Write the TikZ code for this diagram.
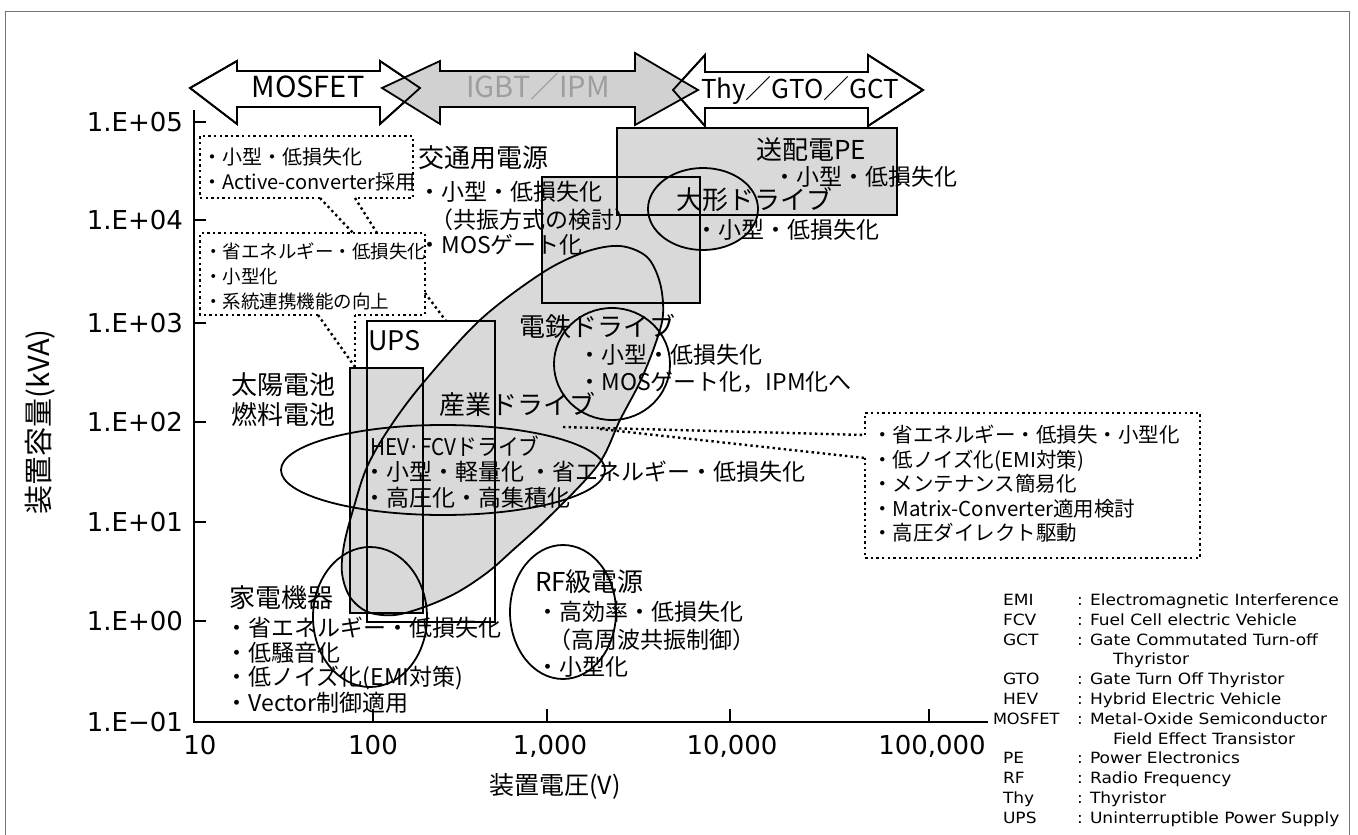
\documentclass[tikz,border=0pt]{standalone}
\usepackage{fontspec}
\usepackage{graphicx}
\setmainfont{Noto Sans CJK JP}
\newfontfamily\tickfont{DejaVu Sans}
\newfontfamily\legfont{DejaVu Sans}[FakeStretch=1.1]
\newcommand\szT{\fontsize{26pt}{30pt}\selectfont}
\newcommand\szB{\fontsize{23pt}{27pt}\selectfont}
\newcommand\szBa{\fontsize{20pt}{24pt}\selectfont}
\newcommand\szBb{\fontsize{18.5pt}{22pt}\selectfont}
\newcommand\szBr{\fontsize{20.5pt}{24pt}\selectfont}
\newcommand\szK{\tickfont\fontsize{26pt}{30pt}\selectfont}
\newcommand\szL{\legfont\fontsize{15.5pt}{18pt}\selectfont}
\newcommand\szA{\fontsize{29pt}{33pt}\selectfont}
\begin{document}
\begin{tikzpicture}[x=1pt,y=-1pt,
  shadefill/.style={fill=black!15},
  outl/.style={draw=black, line width=1.8pt},
  dotl/.style={draw=black, line width=2.4pt, dash pattern=on 2.4pt off 3.2pt},
  lbl/.style={anchor=base west, inner sep=0pt, outer sep=0pt},
  lblc/.style={anchor=base, inner sep=0pt, outer sep=0pt},
  lble/.style={anchor=base east, inner sep=0pt, outer sep=0pt},
  arrowbox/.style={draw=black, line width=1.8pt, line join=miter},
]
\useasboundingbox (0,0) rectangle (1358,835);
\draw[black!55, line width=0.8pt] (5,835) -- (5,11) -- (1349,11) -- (1349,835);

\def\sangyo{plot[smooth cycle, tension=0.55] coordinates {(663,315) (655,345) (640,382) (620,420) (598,465) (549,517) (513,550) (488,572) (458,592) (427,606) (395,615) (368,612) (350,597) (342,573) (344,545) (353,510) (367,467) (390,427) (423,383) (480,320) (542,273) (585,252) (620,246) (647,257) (660,283)}}

% shaded regions
\fill[shadefill] (617,128) rectangle (897,215);
\fill[shadefill] (542,177) rectangle (700,303);
\fill[shadefill] (703,209) ellipse [x radius=55, y radius=41];
\fill[shadefill] \sangyo;
\fill[shadefill] (350,368) rectangle (423,613);

% outlines
\draw[outl] (617,128) rectangle (897,215);
\draw[outl] (542,177) rectangle (700,303);
\draw[outl] (703,209) ellipse [x radius=55, y radius=41];
\draw[outl] \sangyo;
\draw[outl] (350,368) rectangle (423,613);
\draw[outl] (367,321) rectangle (495,622);
\draw[outl] (443,470) ellipse [x radius=162, y radius=45];
\draw[outl] (612,364) ellipse [x radius=58, y radius=56];
\draw[outl] (370,617) ellipse [x radius=57, y radius=70];
\draw[outl] (563,612) ellipse [x radius=53, y radius=67];

% dotted callout boxes
\coordinate (b1gl) at (320,198); \coordinate (b1gr) at (355,198);
\coordinate (b2tl) at (353,233); \coordinate (b2tr) at (377,233);
\coordinate (b2gl) at (318,315); \coordinate (b2gr) at (355,315);
\coordinate (solar) at (355,367);
\coordinate (b2r) at (425,293); \coordinate (upsTop) at (446,321);
\coordinate (rbA) at (865,435); \coordinate (rbB) at (865,458);
\coordinate (indA) at (563,427); \coordinate (indB) at (600,429);
\draw[dotl] (b1gl) -- (200,198) -- (200,136) -- (413,136) -- (413,198) -- (b1gr);
\draw[dotl] (b1gl) -- (b2tl);
\draw[dotl] (b1gr) -- (b2tr);
\draw[dotl] (b2gl) -- (200,315) -- (200,233) -- (425,233) -- (425,315) -- (b2gr);
\draw[dotl] (b2gl) -- (solar);
\draw[dotl] (b2gr) -- (solar);
\draw[dotl] (b2r) -- (upsTop);
\draw[dotl] (rbA) -- (865,413) -- (1200,413) -- (1200,558) -- (865,558) -- (rbB);
\draw[dotl] (indA) -- (rbA);
\draw[dotl] (indB) -- (rbB);

% axes
\draw[line width=2.6pt] (194,110) -- (194,722) -- (988,722);
\foreach \yy in {122,220,323,422,522,621} \draw[line width=2pt] (194,\yy) -- (206,\yy);
\foreach \xx in {373,547,730,929} \draw[line width=2pt] (\xx,722) -- (\xx,709);

\node[lble] (y5) at (183,131.5) {\szK 1.E+05};
\node[lble] (y4) at (183,229.5) {\szK 1.E+04};
\node[lble] (y3) at (183,332.5) {\szK 1.E+03};
\node[lble] (y2) at (183,431.5) {\szK 1.E+02};
\node[lble] (y1) at (183,531.5) {\szK 1.E+01};
\node[lble] (y0) at (183,630.5) {\szK 1.E+00};
\node[lble] (ym) at (183,731.5) {\szK 1.E−01};
\node[lblc] (x1) at (200,754.5) {\szK 10};
\node[lblc] (x2) at (373,754.5) {\szK 100};
\node[lblc] (x3) at (550,754.5) {\szK 1,000};
\node[lblc] (x4) at (732,754.5) {\szK 10,000};
\node[lblc] (x5) at (932,754.5) {\szK 100,000};
\node[lblc] (xt) at (555,794) {\fontsize{25pt}{29pt}\selectfont 装置電圧(V)};
\node[rotate=90, inner sep=0pt] (yt) at (40,422) {\fontsize{29pt}{33pt}\selectfont 装置容量(kVA)};

% dotted box texts
\node[lbl] (b1a) at (202,164.4) {\szBa ・小型・低損失化};
\node[lbl] (b1b) at (202,189.4) {\szBa ・Active-converter採用};
\node[lbl] (b2a) at (204,258.8) {\szBb ・省エネルギー・低損失化};
\node[lbl] (b2b) at (204,283.8) {\szBb ・小型化};
\node[lbl] (b2c) at (204,308.8) {\szBb ・系統連携機能の向上};
\node[lbl] (r1) at (872,442.6) {\szBr ・省エネルギー・低損失・小型化};
\node[lbl] (r2) at (872,467.1) {\szBr ・低ノイズ化(EMI対策)};
\node[lbl] (r3) at (872,491.6) {\szBr ・メンテナンス簡易化};
\node[lbl] (r4) at (872,516.1) {\szBr ・Matrix-Converter適用検討};
\node[lbl] (r5) at (872,540.6) {\szBr ・高圧ダイレクト駆動};

% area labels
\node[lbl] (k0) at (418,167.6) {\szT 交通用電源};
\node[lbl] (k1) at (418.5,200.5) {\szB ・小型・低損失化};
\node[lbl] (k2) at (430,228.5) {\szB （共振方式の検討）};
\node[lbl] (k3) at (418.5,253.5) {\szB ・MOSゲート化};
\node[lbl] (s0) at (756,159.6) {\szT 送配電PE};
\node[lbl] (s1) at (773.5,185.5) {\szB ・小型・低損失化};
\node[lbl] (o0) at (676,209.6) {\szT 大形ドライブ};
\node[lbl] (o1) at (695.5,238.5) {\szB ・小型・低損失化};
\node[lbl] (ups) at (368,350) {\fontsize{27pt}{31pt}\selectfont UPS};
\node[lbl] (d0) at (519,336.6) {\szT 電鉄ドライブ};
\node[lbl] (d1) at (578.5,363.5) {\szB ・小型・低損失化};
\node[lbl] (d2) at (578.5,390.5) {\szB ・MOSゲート化，IPM化へ};
\node[lbl] (i0) at (439,414.6) {\szT 産業ドライブ};
\node[lbl] (p0) at (231,394.6) {\szT 太陽電池};
\node[lbl] (p1) at (231,424.6) {\szT 燃料電池};
\node[lbl] (h0) at (370,455.5) {\szB\scalebox{0.9}[1]{HEV·FCVドライブ}};
\node[lbl] (h1) at (363.5,480.5) {\szB ・小型・軽量化 ・省エネルギー・低損失化};
\node[lbl] (h2) at (363.5,506.5) {\szB ・高圧化・高集積化};
\node[lbl] (e0) at (229,607.6) {\szT 家電機器};
\node[lbl] (e1) at (225.5,636.5) {\szB ・省エネルギー・低損失化};
\node[lbl] (e2) at (225.5,661.5) {\szB ・低騒音化};
\node[lbl] (e3) at (225.5,685.5) {\szB ・低ノイズ化(EMI対策)};
\node[lbl] (e4) at (225.5,711.5) {\szB ・Vector制御適用};
\node[lbl] (f0) at (535,591.6) {\szT RF級電源};
\node[lbl] (f1) at (536.5,620.5) {\szB ・高効率・低損失化};
\node[lbl] (f2) at (548,648.5) {\szB （高周波共振制御）};
\node[lbl] (f3) at (536.5,675.5) {\szB ・小型化};

% legend
\foreach \ab/\de/\yy in {EMI/Electromagnetic Interference/605.5, FCV/Fuel Cell electric Vehicle/625.3, GCT/Gate Commutated Turn-off/645.1, GTO/Gate Turn Off Thyristor/684.7, HEV/Hybrid Electric Vehicle/704.5, PE/Power Electronics/763.9, RF/Radio Frequency/783.7, Thy/Thyristor/803.5, UPS/Uninterruptible Power Supply/823.3}{
  \node[lbl] (ab-\ab) at (1003,\yy) {\szL \ab};
  \node[lbl] (co-\ab) at (1077,\yy) {\szL :};
  \node[lbl] (de-\ab) at (1090,\yy) {\szL \de};
}
\node[lbl] (ab-MOS) at (993,724.3) {\szL\scalebox{0.95}[1]{MOSFET}};
\node[lbl] (co-MOS) at (1077,724.3) {\szL :};
\node[lbl] (de-MOS) at (1090,724.3) {\szL Metal-Oxide Semiconductor};
\node[lbl] (de-MOS2) at (1113,744.1) {\szL Field Effect Transistor};
\node[lbl] (de-GCT2) at (1113,664.9) {\szL Thyristor};

% device arrows
\draw[arrowbox, fill=white] (673,90) -- (705,55) -- (705,72) -- (868,72) -- (868,55) -- (923,90) -- (868,126) -- (868,108) -- (705,108) -- (705,126) -- cycle;
\draw[arrowbox, fill=white] (190,88) -- (237,61) -- (237,71) -- (380,71) -- (380,61) -- (420,88) -- (380,124) -- (380,107) -- (237,107) -- (237,124) -- cycle;
\draw[arrowbox, fill=black!18] (382,88) -- (440,61) -- (440,71) -- (635,71) -- (635,53) -- (698,90) -- (635,125) -- (635,107) -- (440,107) -- (440,124) -- cycle;
\draw[arrowbox] (673,90) -- (705,55) -- (705,72) -- (868,72) -- (868,55) -- (923,90) -- (868,126) -- (868,108) -- (705,108) -- (705,126) -- cycle;
\draw[arrowbox] (190,88) -- (237,61) -- (237,71) -- (380,71) -- (380,61) -- (420,88) -- (380,124) -- (380,107) -- (237,107) -- (237,124) -- cycle;
\node[lblc] (am) at (308,97.6) {\szA MOSFET};
\node[lblc, text=black!38] (ai) at (538,97.6) {\szA IGBT／IPM};
\node[lblc] (at) at (800,98.6) {\fontsize{26pt}{30pt}\selectfont Thy／GTO／GCT};
\end{tikzpicture}
\end{document}
